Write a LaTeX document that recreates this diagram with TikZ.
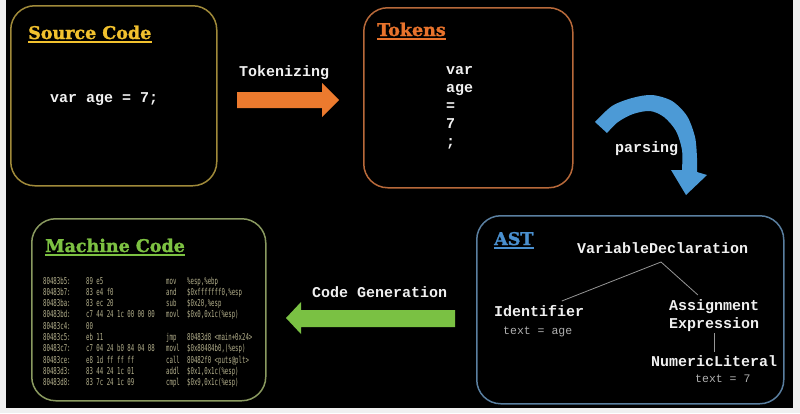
\documentclass[tikz,border=0pt]{standalone}
\usepackage{fontspec}
\setmonofont{Liberation Mono}
\newfontfamily\titlefont[FakeBold=1.6]{DejaVu Serif}
\newfontfamily\mcfont[FakeStretch=0.6]{DejaVu Sans Mono}
\usetikzlibrary{calc}
\definecolor{srcbd}{HTML}{A08A3A}
\definecolor{srcti}{HTML}{F2C12E}
\definecolor{tokbd}{HTML}{B8693A}
\definecolor{tokti}{HTML}{E8732C}
\definecolor{orarr}{HTML}{EC7A2E}
\definecolor{bluarr}{HTML}{4C9AD6}
\definecolor{astbd}{HTML}{5A7FA0}
\definecolor{astti}{HTML}{4A90D0}
\definecolor{grarr}{HTML}{7AC143}
\definecolor{mcbd}{HTML}{8A9A60}
\definecolor{mcti}{HTML}{7DC142}
\definecolor{mctx}{HTML}{B4B08C}
\definecolor{txt}{HTML}{F0F0F0}
\definecolor{sub}{HTML}{B0B0B0}
\begin{document}
\begin{tikzpicture}[x=1pt,y=-1pt,
  panel/.style={draw, line width=1.5pt, rounded corners=24pt, anchor=north west, inner sep=0pt},
  code/.style={font=\ttfamily\bfseries\fontsize{15}{18}\selectfont, text=txt, inner sep=0pt, anchor=base west},
  subtxt/.style={font=\ttfamily\fontsize{11.5}{14}\selectfont, text=sub, inner sep=0pt, anchor=base west},
  ttl/.style={font=\titlefont\bfseries\fontsize{17.5}{20}\selectfont, inner sep=0pt, anchor=base west},
  mc/.style={font=\mcfont\fontsize{9.5}{10}\selectfont, text=mctx, inner sep=0pt, anchor=base west},
  uline/.style={line width=2pt},
  treeline/.style={draw=sub!85!black, line width=0.8pt}]
\fill[gray!12] (0,0) rectangle (800,413);
\fill[black] (6,0) rectangle (793,408);
\useasboundingbox (0,0) rectangle (800,413);

% panels
\node (src) [panel, draw=srcbd, minimum width=206pt, minimum height=180pt] at (10,5) {};
\node (tok) [panel, draw=tokbd, minimum width=209pt, minimum height=180pt] at (363,7) {};
\node (ast) [panel, draw=astbd, minimum width=307pt, minimum height=188pt] at (476,215) {};
\node (mach) [panel, draw=mcbd, minimum width=234pt, minimum height=182pt] at (31,218) {};

% titles
\node (t1) [ttl, text=srcti] at (28,39) {Source Code};
\draw[uline, srcti] ([yshift=-3pt]t1.base west) -- ([yshift=-3pt]t1.base east);
\node (t2) [ttl, text=tokti] at (377,36) {Tokens};
\draw[uline, tokti] ([yshift=-3pt]t2.base west) -- ([yshift=-3pt]t2.base east);
\node (t3) [ttl, text=astti] at (494,245) {AST};
\draw[uline, astti] ([yshift=-3pt]t3.base west) -- ([yshift=-3pt]t3.base east);
\node (t4) [ttl, text=mcti] at (45,252) {Machine Code};
\draw[uline, mcti] ([yshift=-3pt]t4.base west) -- ([yshift=-3pt]t4.base east);

% source code
\node (srccode) [code] at (50,102) {var age = 7;};

% tokens
\node (k1) [code] at (446,74) {var};
\node (k2) [code] at (446,92) {age};
\node (k3) [code] at (446,110) {=};
\node (k4) [code] at (446,128) {7};
\node (k5) [code] at (446,146) {;};

% tokenizing arrow
\fill[orarr] (237,92) -- (322,92) -- (322,83) -- (339,100) -- (322,117) -- (322,108) -- (237,108) -- cycle;
\node (lbltok) [code] at (239,76) {Tokenizing};

% parsing arrow
\fill[bluarr] plot[smooth] coordinates {(595,122) (612,106) (632,98) (652,95) (672,101) (687,116) (695,137) (697,158) (697,172)}
  -- (707,175) -- (686,195) -- (671,170) -- (682,170)
  -- plot[smooth] coordinates {(682,170) (682,150) (676,131) (664,117) (650,111) (633,114) (618,122) (607,133)} -- cycle;
\node (lblparse) [code] at (615,152) {parsing};

% code generation arrow
\fill[grarr] (455,310) -- (301,310) -- (301,302) -- (286,318) -- (301,334) -- (301,327) -- (455,327) -- cycle;
\node (lblgen) [code] at (312,297) {Code Generation};

% AST
\node (vd) [code] at (577,253) {VariableDeclaration};
\node (idf) [code] at (494,316) {Identifier};
\node (idt) [subtxt] at (503,334) {text = age};
\node (as1) [code] at (669,310) {Assignment};
\node (as2) [code] at (669,328) {Expression};
\node (num) [code] at (651,366) {NumericLiteral};
\node (numt) [subtxt] at (695,382) {text = 7};
\coordinate (vdb) at ($(vd.base west)!0.49!(vd.base east)+(0,9)$);
\coordinate (idfa) at ($(idf.base west)!0.75!(idf.base east)+(0,-15)$);
\coordinate (as1a) at ($(as1.base west)!0.32!(as1.base east)+(0,-15)$);
\coordinate (as2b) at ($(as2.base west)!0.5!(as2.base east)+(0,5)$);
\coordinate (numa) at ($(as2b)+(0,19)$);
\draw[treeline] (vdb) -- (idfa);
\draw[treeline] (vdb) -- (as1a);
\draw[treeline] (as2b) -- (numa);

% machine code listing
\foreach \a/\b/\c/\d [count=\i from 0] in {
  80483b5:/89 e5/mov/{\%esp,\%ebp},
  80483b7:/83 e4 f0/and/{\$0xfffffff0,\%esp},
  80483ba:/83 ec 20/sub/{\$0x20,\%esp},
  80483bd:/c7 44 24 1c 00 00 00/movl/{\$0x0,0x1c(\%esp)},
  80483c4:/00//,
  80483c5:/eb 11/jmp/{80483d8 <main+0x24>},
  80483c7:/c7 04 24 b0 84 04 08/movl/{\$0x80484b0,(\%esp)},
  80483ce:/e8 1d ff ff ff/call/{80482f0 <puts@plt>},
  80483d3:/83 44 24 1c 01/addl/{\$0x1,0x1c(\%esp)},
  80483d8:/83 7c 24 1c 09/cmpl/{\$0x9,0x1c(\%esp)}} {
  \node (ma\i) [mc] at (43,{284+11.33*\i}) {\a};
  \node (mb\i) [mc] at (86,{284+11.33*\i}) {\b};
  \node (mm\i) [mc] at (166,{284+11.33*\i}) {\c};
  \node (mo\i) [mc] at (187,{284+11.33*\i}) {\d};
}
\end{tikzpicture}
\end{document}
